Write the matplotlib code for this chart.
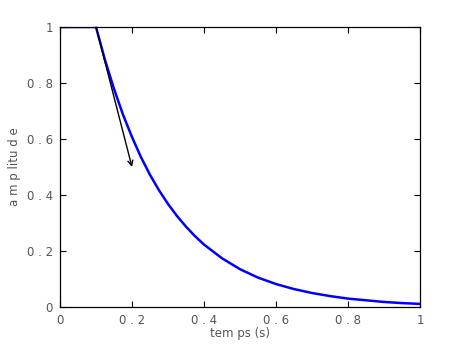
import matplotlib
matplotlib.use('Agg')
import matplotlib.pyplot as plt

# values (amplitude vs time)
t_s = [0.0, 0.1, 0.125, 0.15, 0.175, 0.2, 0.225, 0.25, 0.275, 0.3, 0.325,
       0.35, 0.375, 0.4, 0.45, 0.5, 0.55, 0.6, 0.65, 0.7, 0.75, 0.8, 0.85,
       0.9, 0.95, 1.0]
amplitude = [1.0, 1.0, 0.882, 0.779, 0.687, 0.607, 0.535, 0.472, 0.417,
             0.368, 0.325, 0.287, 0.253, 0.223, 0.174, 0.135, 0.105, 0.082,
             0.064, 0.050, 0.039, 0.030, 0.024, 0.018, 0.014, 0.011]

# tangent arrow at the start of the decay
arrow_start = (0.1, 1.0)
arrow_end = (0.2, 0.5)

xticks = [0, 0.2, 0.4, 0.6, 0.8, 1]
xtick_labels = ['0', '0 . 2', '0 . 4', '0 . 6', '0 . 8', '1']
yticks = [0, 0.2, 0.4, 0.6, 0.8, 1]
ytick_labels = ['0', '0 . 2', '0 . 4', '0 . 6', '0 . 8', '1']

TEXT = '#555555'
FONT = ['Liberation Sans Narrow', 'DejaVu Sans']

fig = plt.figure(figsize=(4.64, 3.48), dpi=100)
ax = fig.add_axes([60 / 464, 1 - 307 / 348, 360 / 464, 280 / 348])

ax.plot(t_s, amplitude, color='#0000ff', linewidth=1.8)
ax.annotate('', xy=arrow_end, xytext=arrow_start,
            arrowprops=dict(arrowstyle='->', color='black', lw=1.0,
                            shrinkA=0, shrinkB=0, mutation_scale=9))

ax.set_xlim(0, 1)
ax.set_ylim(0, 1)
ax.set_xticks(xticks)
ax.set_xticklabels(xtick_labels)
ax.set_yticks(yticks)
ax.set_yticklabels(ytick_labels)
ax.tick_params(direction='in', top=True, right=True, length=4, width=0.8,
               labelsize=8.5, labelcolor=TEXT, pad=5)
for lbl in ax.get_xticklabels() + ax.get_yticklabels():
    lbl.set_family(FONT)
for sp in ax.spines.values():
    sp.set_linewidth(0.9)

ax.set_xlabel('tem ps (s)', fontsize=8.5, color=TEXT, family=FONT, labelpad=0)
ax.set_ylabel('a m p litu d e', fontsize=8.5, color=TEXT, family=FONT, labelpad=4)

fig.savefig('out.png', dpi=100, facecolor='white')
